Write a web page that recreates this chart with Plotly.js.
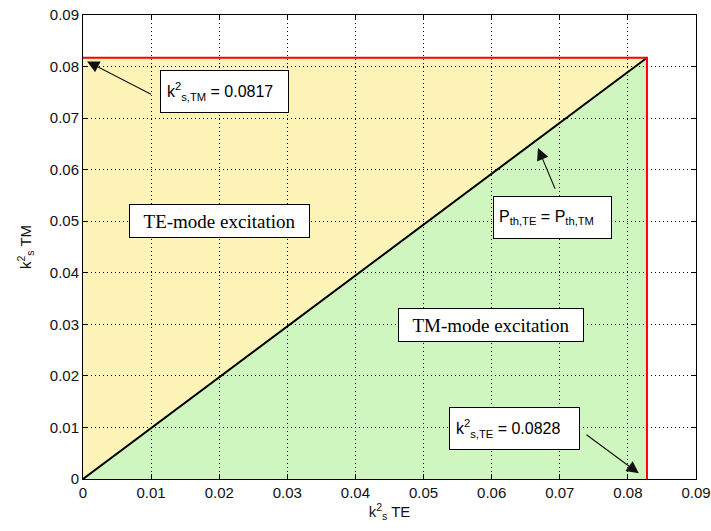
<!DOCTYPE html>
<html>
<head>
<meta charset="utf-8">
<script src="https://cdn.plot.ly/plotly-3.0.1.min.js"></script>
<style>html,body{margin:0;padding:0;background:#fff;}#chart{width:711px;height:531px;}</style>
</head>
<body>
<div id="chart"></div>
<script>
// ---- data ----
const kTE = 0.0828;          // k_s^2 TE threshold
const kTM = 0.0817;          // k_s^2 TM threshold
const tickVals = [0, 0.01, 0.02, 0.03, 0.04, 0.05, 0.06, 0.07, 0.08, 0.09];
const tickText = ['0', '0.01', '0.02', '0.03', '0.04', '0.05', '0.06', '0.07', '0.08', '0.09'];
const diagX = [0, kTE];
const diagY = [0, kTM];
const boundX = [0, kTE, kTE];
const boundY = [kTM, kTM, 0];
const regionLabels = ['TE-mode excitation', 'TM-mode excitation'];

const yellow = '#FFF4B8';
const green = '#CFF6BE';
const sans = 'Liberation Sans, Arial, sans-serif';
const serif = 'Liberation Serif, Times New Roman, serif';

const traces = [
  {x: diagX, y: diagY, mode: 'lines', line: {color: '#000', width: 2}, hoverinfo: 'skip'},
  {x: boundX, y: boundY, mode: 'lines', line: {color: '#FF0000', width: 2}, hoverinfo: 'skip'}
];

const shapes = [
  {type: 'path', xref: 'x', yref: 'y', layer: 'below',
   path: `M ${diagX[0]},${diagY[0]} L 0,${kTM} L ${kTE},${kTM} Z`,
   fillcolor: yellow, line: {width: 0}},
  {type: 'path', xref: 'x', yref: 'y', layer: 'below',
   path: `M ${diagX[0]},${diagY[0]} L ${kTE},${kTM} L ${kTE},0 Z`,
   fillcolor: green, line: {width: 0}}
];

function box(text, x, y, w, h, font, align, pad) {
  pad = pad || 0;
  return {text: text, x: x, y: y, xref: 'x', yref: 'y', showarrow: false,
    width: w - 2 * pad, height: h - 2 * pad, align: align || 'center', valign: 'middle',
    bgcolor: '#fff', bordercolor: '#000', borderwidth: 1, borderpad: pad,
    font: font};
}
function arrow(hx, hy, tx, ty) {
  return {text: '', x: hx, y: hy, ax: tx, ay: ty, xref: 'x', yref: 'y', axref: 'x', ayref: 'y',
    showarrow: true, arrowhead: 2, arrowsize: 2.2, arrowwidth: 1.1, arrowcolor: '#111', standoff: 0, startstandoff: 0};
}
const sansF = {family: sans, size: 16, color: '#000'};
const serifF = {family: serif, size: 19, color: '#000'};

const annotations = [
  box('k<sup>2</sup><sub>s,TM</sub> = ' + kTM, 0.0208, 0.0752, 127, 41, sansF, 'left', 6),
  box(regionLabels[0], 0.02007, 0.0500, 179, 32, serifF),
  box('P<sub>th,TE</sub> = P<sub>th,TM</sub>', 0.0689, 0.0507, 117, 41, sansF, 'left', 5),
  box(regionLabels[1], 0.05985, 0.0298, 184, 32, serifF),
  box('k<sup>2</sup><sub>s,TE</sub> = ' + kTE, 0.0633, 0.0097, 129, 41, sansF, 'left', 6),
  arrow(0.0006, 0.0810, 0.0102, 0.0745),
  arrow(0.0668, 0.0642, 0.0694, 0.0560),
  arrow(0.0816, 0.0011, 0.0737, 0.0088)
];

const axisCommon = {
  range: [0, 0.09], tickvals: tickVals, ticktext: tickText,
  ticks: 'inside', ticklen: 5, tickcolor: '#000', tickwidth: 1,
  showline: true, linecolor: '#000', linewidth: 1, mirror: 'ticks',
  showgrid: true, gridcolor: '#000', gridwidth: 1, griddash: '1px,3px',
  zeroline: false, fixedrange: true,
  tickfont: {family: sans, size: 15, color: '#111'}
};

const layout = {
  width: 711, height: 531,
  margin: {l: 83, r: 15, t: 15, b: 52},
  paper_bgcolor: '#fff', plot_bgcolor: '#fff',
  showlegend: false,
  xaxis: Object.assign({}, axisCommon, {
    title: {text: 'k<sup>2</sup><sub>s</sub> TE', font: {family: sans, size: 15, color: '#111'}, standoff: 4}
  }),
  yaxis: Object.assign({}, axisCommon, {
    title: {text: 'k<sup>2</sup><sub>s</sub> TM', font: {family: sans, size: 15, color: '#111'}, standoff: 14}
  }),
  shapes: shapes,
  annotations: annotations
};

Plotly.newPlot('chart', traces, layout, {displayModeBar: false, staticPlot: true});
</script>
</body>
</html>
